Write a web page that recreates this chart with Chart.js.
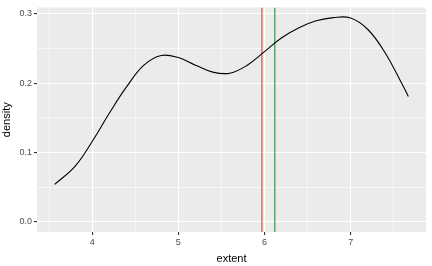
<!DOCTYPE html>
<html>
<head>
<meta charset="utf-8">
<script src="https://cdn.jsdelivr.net/npm/chart.js@4.4.1/dist/chart.umd.min.js"></script>
<style>
  html, body { margin: 0; padding: 0; background: #fff; }
  #wrap { width: 432px; height: 266px; position: relative; }
</style>
</head>
<body>
<div id="wrap"><canvas id="density-chart"></canvas></div>
<script>
// density curve
const extentX = [3.564, 3.8, 4.0, 4.2, 4.4, 4.6, 4.8, 5.0, 5.2, 5.4, 5.6, 5.8,
                 6.0, 6.2, 6.4, 6.6, 6.8, 7.0, 7.2, 7.4, 7.6, 7.670];
const densityY = [0.054, 0.080, 0.116, 0.157, 0.195, 0.226, 0.240, 0.237, 0.226, 0.216, 0.2145, 0.226,
                  0.2455, 0.2655, 0.280, 0.290, 0.2947, 0.294, 0.2775, 0.244, 0.198, 0.181];

// reference lines (mean / median)
const meanX = 5.97;
const medianX = 6.12;

const xMajor = [4, 5, 6, 7];
const xMinor = [3.5, 4.5, 5.5, 6.5, 7.5];
const yMajor = [0, 0.1, 0.2, 0.3];
const yMinor = [0.05, 0.15, 0.25];

// ggplot-ish expansion of 5%
const xLo = 3.359, xHi = 7.875;
const yLo = -0.0147, yHi = 0.3094;

const isMajor = (list, v) => list.some(m => Math.abs(m - v) < 1e-6);

const panelBg = {
    id: 'panelBg',
    beforeDraw(chart) {
        const { ctx, chartArea: a } = chart;
        ctx.save();
        ctx.fillStyle = '#EBEBEB';
        ctx.fillRect(a.left, a.top, a.right - a.left, a.bottom - a.top);
        ctx.restore();
    }
};

const curve = extentX.map((x, i) => ({ x, y: densityY[i] }));

new Chart(document.getElementById('density-chart'), {
    type: 'line',
    data: {
        datasets: [
            {
                data: curve,
                borderColor: '#000000',
                borderWidth: 1.1,
                pointRadius: 0,
                tension: 0.4,
                fill: false
            },
            {
                data: [{ x: meanX, y: yLo }, { x: meanX, y: yHi }],
                borderColor: '#E4460F',
                borderWidth: 1.1,
                pointRadius: 0
            },
            {
                data: [{ x: medianX, y: yLo }, { x: medianX, y: yHi }],
                borderColor: '#218F4F',
                borderWidth: 1.1,
                pointRadius: 0
            }
        ]
    },
    options: {
        responsive: true,
        maintainAspectRatio: false,
        animation: false,
        events: [],
        layout: { padding: { top: 5, right: 6, left: 0, bottom: 0 } },
        plugins: { legend: { display: false }, tooltip: { enabled: false } },
        scales: {
            x: {
                type: 'linear',
                min: xLo,
                max: xHi,
                afterBuildTicks: (axis) => {
                    axis.ticks = [...xMinor, ...xMajor].sort((a, b) => a - b).map(v => ({ value: v }));
                },
                afterFit: (scale) => { scale.height = 34; },
                border: { display: false },
                grid: {
                    color: '#FFFFFF',
                    lineWidth: (c) => isMajor(xMajor, c.tick.value) ? 1.1 : 0.55,
                    tickColor: (c) => isMajor(xMajor, c.tick.value) ? '#333333' : 'rgba(0,0,0,0)',
                    tickLength: 3,
                    drawTicks: true
                },
                ticks: {
                    autoSkip: false,
                    maxRotation: 0,
                    padding: 2,
                    color: '#4D4D4D',
                    font: { family: 'Liberation Sans', size: 9 },
                    callback: (v) => isMajor(xMajor, v) ? String(Math.round(v)) : ''
                },
                title: {
                    display: true,
                    text: 'extent',
                    color: '#000000',
                    font: { family: 'Liberation Sans', size: 11 },
                    padding: { top: 1, bottom: 0 }
                }
            },
            y: {
                type: 'linear',
                min: yLo,
                max: yHi,
                afterBuildTicks: (axis) => {
                    axis.ticks = [...yMajor, ...yMinor].sort((a, b) => a - b).map(v => ({ value: v }));
                },
                afterFit: (scale) => { scale.width = 37; },
                border: { display: false },
                grid: {
                    color: '#FFFFFF',
                    lineWidth: (c) => isMajor(yMajor, c.tick.value) ? 1.1 : 0.55,
                    tickColor: (c) => isMajor(yMajor, c.tick.value) ? '#333333' : 'rgba(0,0,0,0)',
                    tickLength: 3,
                    drawTicks: true
                },
                ticks: {
                    autoSkip: false,
                    padding: 2,
                    color: '#4D4D4D',
                    font: { family: 'Liberation Sans', size: 9 },
                    callback: (v) => isMajor(yMajor, v) ? v.toFixed(1) : ''
                },
                title: {
                    display: true,
                    text: 'density',
                    color: '#000000',
                    font: { family: 'Liberation Sans', size: 11 },
                    padding: { top: 0, bottom: 2 }
                }
            }
        }
    },
    plugins: [panelBg]
});
</script>
</body>
</html>
